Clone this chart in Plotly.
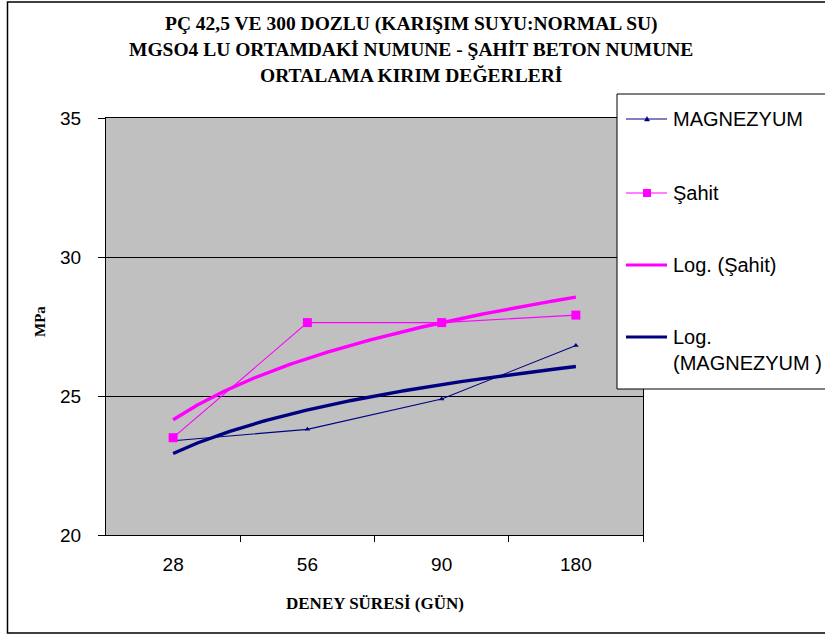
import numpy as np
import plotly.graph_objects as go

W, H = 825, 636

categories = ["28", "56", "90", "180"]
magnezyum = [23.39, 23.80, 24.89, 26.82]
sahit = [23.50, 27.64, 27.64, 27.91]
title_lines = [
    "PÇ 42,5 VE 300 DOZLU (KARIŞIM SUYU:NORMAL SU)",
    "MGSO4 LU ORTAMDAKİ NUMUNE - ŞAHİT BETON NUMUNE",
    "ORTALAMA KIRIM DEĞERLERİ",
]
legend_names = ["MAGNEZYUM", "Şahit", "Log. (Şahit)", "Log.<br>(MAGNEZYUM )"]

NAVY = "#000080"
MAG = "#FF00FF"

idx = np.arange(1, len(categories) + 1)


def log_trend(vals):
    a, b = np.polyfit(np.log(idx), np.array(vals), 1)
    xs = np.linspace(1, len(categories), 200)
    return xs, a * np.log(xs) + b


def fx(px):
    return px / W


def fy(py):
    return 1 - py / H


fig = go.Figure()

xs, ys = log_trend(sahit)
fig.add_trace(go.Scatter(x=xs, y=ys, mode="lines", line=dict(color=MAG, width=3.4), showlegend=False))
xs, ys = log_trend(magnezyum)
fig.add_trace(go.Scatter(x=xs, y=ys, mode="lines", line=dict(color=NAVY, width=3.4), showlegend=False))

fig.add_trace(go.Scatter(x=idx, y=magnezyum, mode="lines+markers",
                         line=dict(color=NAVY, width=1.1),
                         marker=dict(symbol="triangle-up", size=5, color=NAVY),
                         showlegend=False))
fig.add_trace(go.Scatter(x=idx, y=sahit, mode="lines+markers",
                         line=dict(color=MAG, width=1.1),
                         marker=dict(symbol="square", size=9, color=MAG),
                         showlegend=False))

shapes = []
shapes.append(dict(type="rect", xref="paper", yref="paper", x0=fx(7.5), x1=fx(835),
                   y0=fy(633), y1=fy(2), line=dict(color="black", width=1.5), layer="below"))
shapes.append(dict(type="rect", xref="paper", yref="paper", x0=fx(106), x1=fx(643),
                   y0=fy(535), y1=fy(118), fillcolor="#C0C0C0", line=dict(width=0), layer="below"))
shapes.append(dict(type="rect", xref="paper", yref="paper", x0=fx(617), x1=fx(840),
                   y0=fy(389), y1=fy(94), fillcolor="white", line=dict(color="black", width=1),
                   layer="above"))

annotations = []
leg_y = [119, 193, 265, 337]
leg_style = [(NAVY, 1.2, "tri"), (MAG, 1.2, "sq"), (MAG, 3, None), (NAVY, 3, None)]
for name, yy, (col, lw, mk) in zip(legend_names, leg_y, leg_style):
    shapes.append(dict(type="line", xref="paper", yref="paper", x0=fx(626), x1=fx(667),
                       y0=fy(yy), y1=fy(yy), line=dict(color=col, width=lw), layer="above"))
    if mk == "sq":
        shapes.append(dict(type="rect", xref="paper", yref="paper", x0=fx(643), x1=fx(651),
                           y0=fy(yy + 4), y1=fy(yy - 4), fillcolor=col, line=dict(width=0),
                           layer="above"))
    elif mk == "tri":
        path = "M {} {} L {} {} L {} {} Z".format(fx(644.5), fy(yy + 2), fx(649.5), fy(yy + 2),
                                                 fx(647), fy(yy - 2.5))
        shapes.append(dict(type="path", xref="paper", yref="paper", path=path, fillcolor=col,
                           line=dict(color=col, width=0.5), layer="above"))
    annotations.append(dict(text=name, xref="paper", yref="paper", x=fx(671), y=fy(yy),
                            xanchor="left", yanchor="top" if "<br>" in name else "middle",
                            yshift=13 if "<br>" in name else 0,
                            align="left", showarrow=False,
                            font=dict(family="Liberation Sans", size=20, color="black")))

for line, yy in zip(title_lines, [24, 50, 76]):
    annotations.append(dict(text="<b>" + line + "</b>", xref="paper", yref="paper",
                            x=fx(411), y=fy(yy), xanchor="center", yanchor="middle",
                            showarrow=False,
                            font=dict(family="Liberation Serif", size=19.5, color="black")))

annotations.append(dict(text="<b>DENEY SÜRESİ (GÜN)</b>", xref="paper", yref="paper",
                        x=fx(375), y=fy(603), xanchor="center", yanchor="middle", showarrow=False,
                        font=dict(family="Liberation Serif", size=17, color="black")))
annotations.append(dict(text="<b>MPa</b>", xref="paper", yref="paper", textangle=-90,
                        x=fx(40), y=fy(322), xanchor="center", yanchor="middle", showarrow=False,
                        font=dict(family="Liberation Serif", size=15, color="black")))

fig.update_layout(
    width=W, height=H,
    template="none",
    margin=dict(l=0, r=0, t=0, b=0, pad=0, autoexpand=False),
    paper_bgcolor="white",
    plot_bgcolor="rgba(0,0,0,0)",
    shapes=shapes,
    annotations=annotations,
    showlegend=False,
    xaxis=dict(domain=[fx(106), fx(643)], range=[0.5, 4.5], automargin=False,
               tickmode="array", tickvals=list(idx), ticktext=categories,
               ticks="", showgrid=False, zeroline=False,
               showline=True, linecolor="black", linewidth=1, mirror=True,
               tickfont=dict(family="Liberation Sans", size=19, color="black"),
               ticklabelstandoff=12,
               minor=dict(tickmode="array", tickvals=[1.5, 2.5, 3.5, 4.5], ticks="outside",
                          ticklen=6, tickcolor="black", tickwidth=1, showgrid=False)),
    yaxis=dict(domain=[fy(535), fy(118)], range=[20, 35], dtick=5, tick0=20, automargin=False,
               ticks="outside", ticklen=7, tickcolor="black", tickwidth=1,
               showgrid=True, gridcolor="black", gridwidth=1, zeroline=False,
               showline=True, linecolor="black", linewidth=1, mirror=True,
               tickfont=dict(family="Liberation Sans", size=19, color="black"),
               ticklabelstandoff=13),
)

fig.write_html("out.html")
